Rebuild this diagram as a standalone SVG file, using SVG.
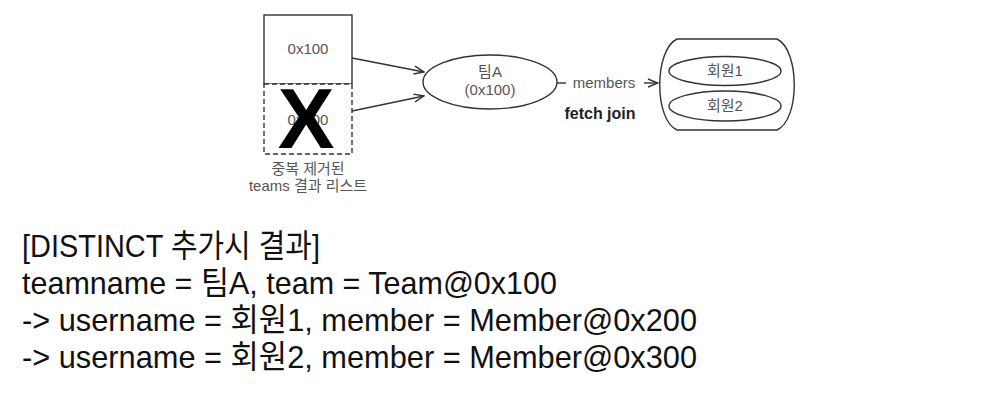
<svg xmlns="http://www.w3.org/2000/svg" width="996" height="407" viewBox="0 0 996 407">
<style>
.ln{fill:none;stroke:#333;stroke-width:1.4}
.sh{fill:#fff;stroke:#333;stroke-width:1.4}
.lb{font-family:"Liberation Sans","Noto Sans CJK KR",sans-serif;fill:#555;font-size:15px;text-anchor:middle}
.big{font-family:"Liberation Sans","Noto Sans CJK KR",sans-serif;fill:#111;font-size:32px}
</style>
<defs>
<marker id="ah" viewBox="0 0 12 10" refX="11" refY="5" markerWidth="12" markerHeight="10" markerUnits="userSpaceOnUse" orient="auto">
<path d="M1,1 L11,5 L1,9" fill="none" stroke="#333" stroke-width="1.4"/>
</marker>
</defs>
<rect width="996" height="407" fill="#fff"/>
<g id="list">
<rect id="row1" class="sh" x="264" y="15" width="88" height="69"/>
<text class="lb" x="308" y="54" font-size="16">0x100</text>
<rect id="row2" x="264" y="84" width="88" height="70" fill="#fff" stroke="#333" stroke-width="1.4" stroke-dasharray="5,3"/>
<text class="lb" x="308" y="125" font-size="16">0x100</text>
<text x="306" y="148" font-family="Liberation Sans,sans-serif" font-weight="bold" font-size="85" text-anchor="middle" fill="#000">X</text>
<text class="lb" x="308" y="174" font-size="14">중복 제거된</text>
<text class="lb" x="308" y="191" font-size="14">teams 결과 리스트</text>
</g>
<g id="team">
<ellipse class="sh" cx="490" cy="82" rx="67" ry="27"/>
<text class="lb" x="490" y="77">팀A</text>
<text class="lb" x="490" y="95">(0x100)</text>
</g>
<g id="members">
<path class="sh" d="M677,39 H777 C800,50 800,120 777,130 H677 C654,120 654,50 677,39 Z"/>
<g id="m1"><ellipse class="sh" cx="725" cy="71" rx="56" ry="14.5"/><text class="lb" x="725" y="76">회원1</text></g>
<g id="m2"><ellipse class="sh" cx="725" cy="106" rx="56" ry="15"/><text class="lb" x="725" y="111">회원2</text></g>
</g>
<g id="connectors">
<line class="ln" x1="352" y1="58" x2="424" y2="72" marker-end="url(#ah)"/>
<line class="ln" x1="352" y1="111" x2="424" y2="96" marker-end="url(#ah)"/>
<line class="ln" x1="557" y1="83" x2="566" y2="83"/>
<text class="lb" x="604" y="88">members</text>
<line class="ln" x1="644" y1="83" x2="658" y2="83" marker-end="url(#ah)"/>
<text x="600" y="119" font-family="Liberation Sans,sans-serif" font-weight="bold" font-size="16" text-anchor="middle" fill="#222">fetch join</text>
</g>
<g id="result">
<text class="big" x="22" y="257" textLength="298" lengthAdjust="spacingAndGlyphs">[DISTINCT 추가시 결과]</text>
<text class="big" x="22" y="294" textLength="535" lengthAdjust="spacingAndGlyphs">teamname = 팀A, team = Team@0x100</text>
<text class="big" x="22" y="331" textLength="675" lengthAdjust="spacingAndGlyphs">-&gt; username = 회원1, member = Member@0x200</text>
<text class="big" x="22" y="368" textLength="675" lengthAdjust="spacingAndGlyphs">-&gt; username = 회원2, member = Member@0x300</text>
</g>
</svg>
